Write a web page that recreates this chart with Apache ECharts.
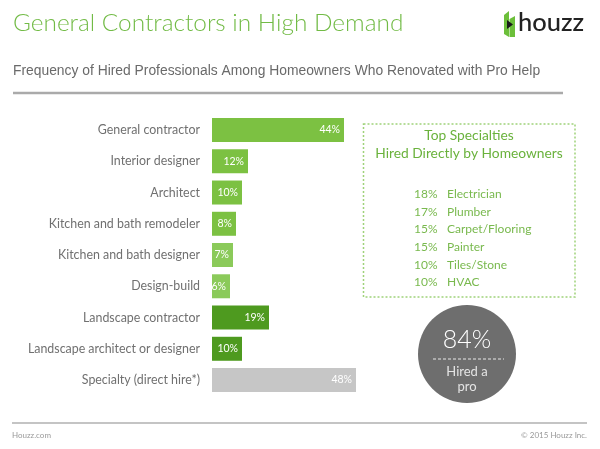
<!DOCTYPE html>
<html>
<head>
<meta charset="utf-8">
<script src="https://cdn.jsdelivr.net/npm/echarts@6/dist/echarts.min.js"></script>
<style>html,body{margin:0;padding:0;background:#fff}#c{width:600px;height:449px}</style>
</head>
<body>
<div id="c"></div>
<script>
var categories = ['General contractor','Interior designer','Architect','Kitchen and bath remodeler','Kitchen and bath designer','Design-build','Landscape contractor','Landscape architect or designer','Specialty (direct hire*)'];
var values = [44, 12, 10, 8, 7, 6, 19, 10, 48];
var barColors = ['#7cc142','#7cc142','#7cc142','#7cc142','#8bca5a','#8bca5a','#4e9a1f','#4e9a1f','#c6c6c6'];
var specialtyNames = ['Electrician','Plumber','Carpet/Flooring','Painter','Tiles/Stone','HVAC'];
var specialtyValues = [18, 17, 15, 15, 10, 10];
var hiredPct = 84;

var chart = echarts.init(document.getElementById('c'), null, {renderer:'canvas'});
var green = '#72bb46';
var boxText = '#79b94e';
var graphics = [
  {type:'text', left:13, top:11, style:{text:'General Contractors in High Demand', font:'300 24.4px Lato', fill:green}},
  {type:'polygon', shape:{points:[[504,15],[509,11],[509,37],[504,34]]}, style:{fill:'#6cbf3a'}},
  {type:'polygon', shape:{points:[[509.5,19],[515,16],[515,37],[509.5,37]]}, style:{fill:'#6cbf3a'}},
  {type:'polygon', shape:{points:[[507,20],[513,24.5],[507,29]]}, style:{fill:'#1a1a1a'}},
  {type:'text', left:518, top:10, style:{text:'houzz', font:'500 25.5px Lato', fill:'#222'}},
  {type:'text', left:13, top:64, style:{text:'Frequency of Hired Professionals Among Homeowners Who Renovated with Pro Help', font:'13.85px "Liberation Sans"', fill:'#6a6a6a'}},
  {type:'line', shape:{x1:13,y1:93,x2:563,y2:93}, style:{stroke:'#aaa', lineWidth:2.5}},
  {type:'line', shape:{x1:12,y1:423,x2:587,y2:423}, style:{stroke:'#b0b0b0', lineWidth:1.5}},
  {type:'text', left:12, top:431, style:{text:'Houzz.com', font:'8px Lato', fill:'#999'}},
  {type:'text', right:13, top:431, style:{text:'\u00a9 2015 Houzz Inc.', font:'8px Lato', fill:'#999'}},
  {type:'rect', shape:{x:363.5,y:124,width:211.5,height:173}, style:{fill:'none', stroke:'#9fd27a', lineWidth:1.5, lineDash:[2,2]}},
  {type:'text', x:469, y:136, style:{text:'Top Specialties', font:'13.8px Lato', fill:'#6ab23c', align:'center', verticalAlign:'middle'}},
  {type:'text', x:469, y:153.5, style:{text:'Hired Directly by Homeowners', font:'13.8px Lato', fill:'#6ab23c', align:'center', verticalAlign:'middle'}},
  {type:'circle', shape:{cx:467, cy:354, r:49}, style:{fill:'#6e6e6e'}},
  {type:'text', x:467, y:340, style:{text:hiredPct+'%', font:'300 25px Lato', fill:'#fff', align:'center', verticalAlign:'middle'}},
  {type:'line', shape:{x1:433,y1:359,x2:504,y2:359}, style:{stroke:'#e8e8e8', lineWidth:1, lineDash:[3,2]}},
  {type:'text', x:467, y:372, style:{text:'Hired a', font:'13px Lato', fill:'#e4e4e4', align:'center', verticalAlign:'middle'}},
  {type:'text', x:467, y:387, style:{text:'pro', font:'13px Lato', fill:'#e4e4e4', align:'center', verticalAlign:'middle'}}
];
for (var i = 0; i < specialtyNames.length; i++) {
  var yy = 194 + i * 17.7;
  graphics.push({type:'text', x:414, y:yy, style:{text:specialtyValues[i]+'%', font:'12px Lato', fill:boxText, verticalAlign:'middle'}});
  graphics.push({type:'text', x:447, y:yy, style:{text:specialtyNames[i], font:'12px Lato', fill:boxText, verticalAlign:'middle'}});
}

chart.setOption({
  animation:false,
  backgroundColor:'#fff',
  grid:{left:212, top:114.4, width:150, height:281.25, containLabel:false},
  xAxis:{type:'value', min:0, max:50, show:false},
  yAxis:{type:'category', data:categories, inverse:true,
    axisLine:{show:false}, axisTick:{show:false}, splitLine:{show:false},
    axisLabel:{margin:12, fontFamily:'Lato', fontSize:12.4, color:'#707070'}},
  series:[{type:'bar', barWidth:24,
    data:values.map(function(v,i){return {value:v, itemStyle:{color:barColors[i]}};}),
    label:{show:true, position:'insideRight', distance:4, color:'#fff', fontFamily:'Lato', fontSize:10.5,
      formatter:function(p){return p.value+'%';}}
  }],
  graphic:graphics
});
</script>
</body>
</html>
